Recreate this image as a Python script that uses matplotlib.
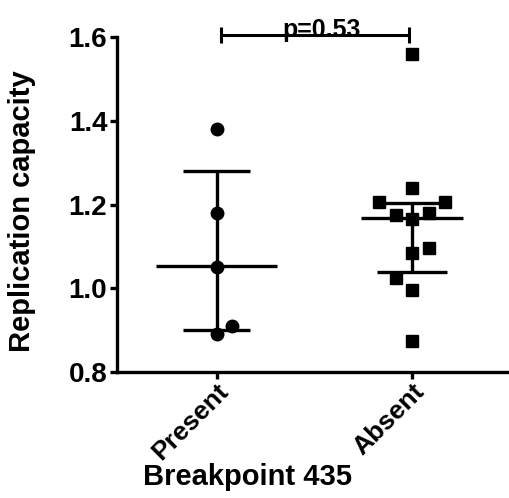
import matplotlib
matplotlib.use("Agg")
import matplotlib.pyplot as plt
import numpy as np

plt.rcParams['font.family'] = ['Liberation Sans', 'DejaVu Sans']
plt.rcParams['font.weight'] = 'bold'

groups = ['Present', 'Absent']
present_vals = [1.38, 1.18, 1.05, 0.89, 0.91]
present_x = [0.0, 0.0, 0.0, 0.0, 0.08]
absent_vals = [1.56, 1.24, 1.205, 1.205, 1.175, 1.18, 1.165, 1.095, 1.085, 1.025, 0.995, 0.875]
absent_x = [0.0, 0.0, -0.17, 0.17, -0.085, 0.085, 0.0, 0.085, 0.0, -0.085, 0.0, 0.0]
# median and interquartile range
medians = [1.052, 1.168]
q1 = [0.900, 1.038]
q3 = [1.280, 1.204]
p_text = 'p=0.53'

fig = plt.figure(figsize=(5.1, 4.98), dpi=100)
ax = fig.add_axes([0.2294, 0.253, 0.7706, 0.6727])

ax.plot(present_x, present_vals, 'o', color='black', markersize=9, zorder=3, clip_on=False)
ax.plot([1 + d for d in absent_x], absent_vals, 's', color='black', markersize=8.5, zorder=3, clip_on=False)

med_w = [0.31, 0.26]
cap_w = [0.17, 0.18]
for i in range(2):
    ax.plot([i - med_w[i], i + med_w[i]], [medians[i]] * 2, color='black', lw=2.4, solid_capstyle='butt')
    ax.plot([i - cap_w[i], i + cap_w[i]], [q1[i]] * 2, color='black', lw=2.4, solid_capstyle='butt')
    ax.plot([i - cap_w[i], i + cap_w[i]], [q3[i]] * 2, color='black', lw=2.4, solid_capstyle='butt')
    ax.plot([i, i], [q1[i], q3[i]], color='black', lw=2.4, solid_capstyle='butt')

# significance bracket
yb = 1.605
ax.plot([0.02, 0.985], [yb, yb], color='black', lw=2.2, clip_on=False, solid_capstyle='butt')
ax.plot([0.02, 0.02], [yb - 0.02, yb + 0.02], color='black', lw=2.2, clip_on=False, solid_capstyle='butt')
ax.plot([0.985, 0.985], [yb - 0.02, yb + 0.02], color='black', lw=2.2, clip_on=False, solid_capstyle='butt')
ax.text(0.535, yb - 0.006, p_text, ha='center', va='baseline', fontsize=18, fontweight='bold')

ax.set_xlim(-0.51, 1.5)
ax.set_ylim(0.8, 1.6)
ax.set_yticks([0.8, 1.0, 1.2, 1.4, 1.6])
ax.set_yticklabels(['0.8', '1.0', '1.2', '1.4', '1.6'])
ax.set_xticks([0, 1])
ax.set_xticklabels(groups, rotation=45, ha='right', rotation_mode='anchor')

for side in ['top', 'right']:
    ax.spines[side].set_visible(False)
for side in ['left', 'bottom']:
    ax.spines[side].set_linewidth(2.4)
ax.tick_params(axis='both', width=2.4, length=5, pad=2)
ax.tick_params(axis='y', labelsize=20)
ax.tick_params(axis='x', labelsize=19, pad=0)
for lab in ax.get_xticklabels() + ax.get_yticklabels():
    lab.set_fontweight('bold')

ax.set_ylabel('Replication capacity', fontsize=21, fontweight='bold', va='center')
ax.yaxis.set_label_coords(-0.242, 0.479)
ax.set_xlabel('Breakpoint 435', fontsize=21, fontweight='bold', va='baseline')
ax.xaxis.set_label_coords(0.333, -0.337)

fig.savefig('out.png', dpi=100)
